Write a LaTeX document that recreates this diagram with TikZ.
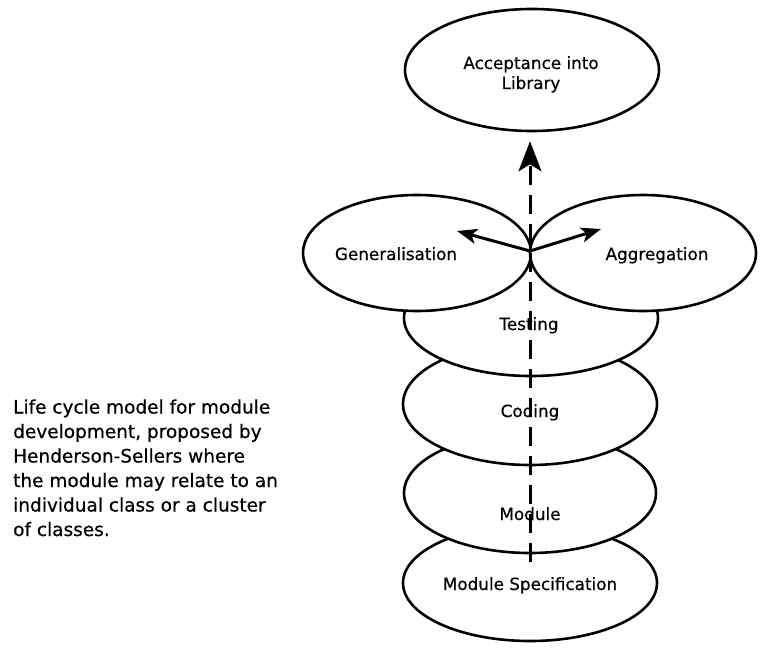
\documentclass[tikz,border=0pt]{standalone}
\usepackage{fontspec}
\setmainfont{DejaVu Sans}
\newfontfamily\heavysans[FakeBold=0.5]{DejaVu Sans}
\usetikzlibrary{shapes.geometric,arrows.meta}
\tikzset{
  phase/.style={ellipse, draw=black, fill=white, line width=2.6pt, inner sep=0pt},
  lbl/.style={anchor=base, inner sep=0pt, font=\heavysans\fontsize{16.8}{20}\selectfont},
  flow/.style={line width=3pt, dash pattern=on 19pt off 10pt, -{Stealth[length=30pt,width=23pt,inset=7pt]}},
  branch/.style={line width=3pt, -{Stealth[length=20pt,width=15pt,inset=5pt]}}
}
\begin{document}
\begin{tikzpicture}[x=1pt,y=-1pt]
\useasboundingbox (0,0) rectangle (775,647);
% ellipses, bottom first
\node[phase, minimum width=254pt, minimum height=116pt] (spec) at (530,583) {};
\node[phase, minimum width=252pt, minimum height=120pt] (mod) at (530,493) {};
\node[phase, minimum width=254pt, minimum height=122pt] (cod) at (530,404) {};
\node[phase, minimum width=254pt, minimum height=116pt] (test) at (531,318) {};
\node[phase, minimum width=228pt, minimum height=116pt] (gen) at (417,253) {};
\node[phase, minimum width=226pt, minimum height=116pt] (agg) at (643,253) {};
\node[phase, minimum width=254pt, minimum height=122pt] (acc) at (532,70) {};
% labels
\node[lbl] (tacc1) at (531,69) {Acceptance into};
\node[lbl] (tacc2) at (531,89) {Library};
\node[lbl] (tgen) at (396,260) {Generalisation};
\node[lbl] (tagg) at (657,260) {Aggregation};
\node[lbl] (ttest) at (529,330) {Testing};
\node[lbl] (tcod) at (530,417) {Coding};
\node[lbl] (tmod) at (530,520) {Module};
\node[lbl] (tspec) at (530,590) {Module Specification};
% connectors
\coordinate (start) at (530,562);
\coordinate (cusp) at (530,251);
\coordinate (ltip) at (457,231);
\coordinate (rtip) at (601,229);
\draw[flow, shorten >=9pt] (start) -- (start |- acc.south);
\draw[branch] (cusp) -- (ltip);
\draw[branch] (cusp) -- (rtip);
% caption (base anchor = baseline of last line)
\node[anchor=base west, align=left, inner sep=0pt, font=\heavysans\fontsize{18.5}{24.5}\selectfont] (caption) at (13,536)
{Life cycle model for module\\development, proposed by\\Henderson-Sellers where\\the module may relate to an\\individual class or a cluster\\of classes.};
\end{tikzpicture}
\end{document}
